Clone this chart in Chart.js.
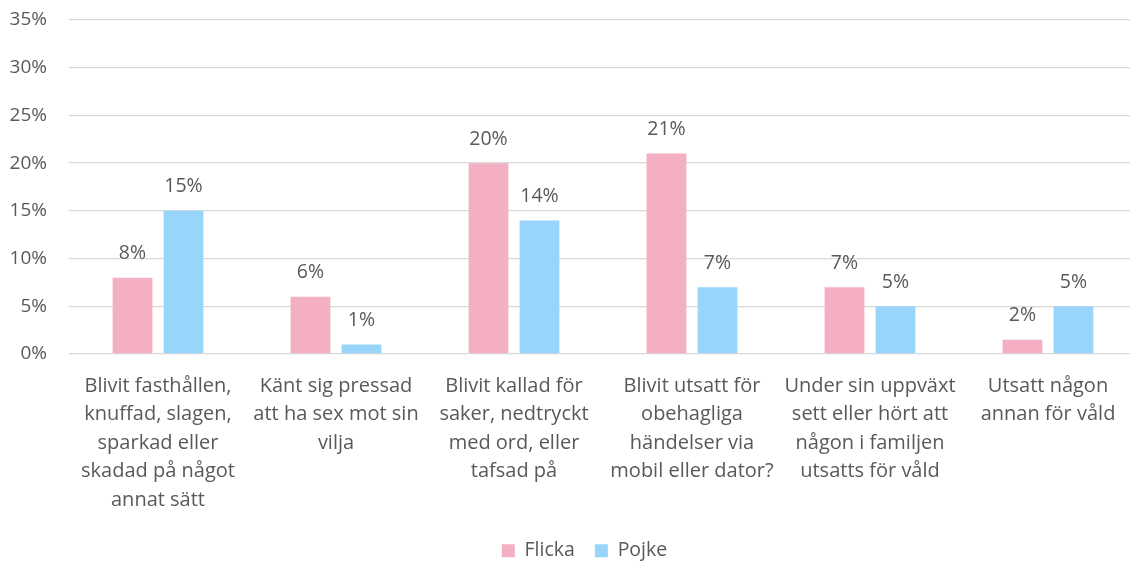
<!DOCTYPE html>
<html>
<head>
<meta charset="utf-8">
<script src="https://cdn.jsdelivr.net/npm/chart.js@4/dist/chart.umd.min.js"></script>
<style>
  html, body { margin: 0; padding: 0; background: #fff; overflow: hidden; }
  #wrap { width: 1140px; height: 561px; }
</style>
</head>
<body>
<div id="wrap"><canvas id="chart" width="1140" height="561"></canvas></div>
<script>
// kategorier (flera rader per etikett)
const categories = [
    ["Blivit fasthållen,", "knuffad, slagen,", "sparkad eller", "skadad på något", "annat sätt"],
    ["Känt sig pressad", "att ha sex mot sin", "vilja"],
    ["Blivit kallad för", "saker, nedtryckt", "med ord, eller", "tafsad på"],
    ["Blivit utsatt för", "obehagliga", "händelser via", "mobil eller dator?"],
    ["Under sin uppväxt", "sett eller hört att", "någon i familjen", "utsatts för våld"],
    ["Utsatt någon", "annan för våld"]
];
const seriesNames = ["Flicka", "Pojke"];
const flicka = [8, 6, 20, 21, 7, 1.5];
const pojke = [15, 1, 14, 7, 5, 5];
const yTicks = [0, 5, 10, 15, 20, 25, 30, 35];

const textColor = '#595959';
const fontFamily = "'Open Sans', 'Noto Sans', sans-serif";

// etiketter ovanför staplarna
const valueLabels = {
    id: 'valueLabels',
    afterDatasetsDraw(chart) {
        const ctx = chart.ctx;
        ctx.save();
        ctx.font = '19.5px ' + fontFamily;
        ctx.fillStyle = textColor;
        ctx.textAlign = 'center';
        ctx.textBaseline = 'middle';
        chart.data.datasets.forEach((ds, i) => {
            chart.getDatasetMeta(i).data.forEach((bar, j) => {
                ctx.fillText(Math.round(ds.data[j]) + '%', bar.x, bar.y - 24);
            });
        });
        ctx.restore();
    }
};

// legenden: fast höjd och lite förskjuten
const legendFix = {
    id: 'legendFix',
    beforeLayout(chart) {
        const lg = chart.legend;
        if (!lg._patched) {
            const origFit = lg.fit;
            lg.fit = function () {
                origFit.call(this);
                this.height = 43;
            };
            lg._patched = true;
        }
    },
    afterLayout(chart) {
        chart.legend.left += 16;
        chart.legend.right += 16;
        chart.legend.top += 3;
        chart.legend.bottom += 3;
    }
};

const ctx = document.getElementById('chart').getContext('2d');
new Chart(ctx, {
    type: 'bar',
    data: {
        labels: categories,
        datasets: [{
            label: seriesNames[0],
            data: flicka,
            backgroundColor: '#f4afc2',
            categoryPercentage: 0.573,
            barPercentage: 0.78
        }, {
            label: seriesNames[1],
            data: pojke,
            backgroundColor: '#99d5fb',
            categoryPercentage: 0.573,
            barPercentage: 0.78
        }]
    },
    options: {
        responsive: false,
        animation: false,
        layout: { padding: { top: 20, right: 3, left: 0, bottom: 0 } },
        plugins: {
            legend: {
                position: 'bottom',
                labels: {
                    color: textColor,
                    font: { size: 19.5, family: fontFamily },
                    boxWidth: 13,
                    boxHeight: 13,
                    padding: 20
                }
            },
            tooltip: { enabled: false }
        },
        scales: {
            y: {
                min: 0,
                max: 35,
                afterBuildTicks: (scale) => { scale.ticks = yTicks.map(v => ({ value: v })); },
                afterFit: (scale) => {
                    scale.width = 69;
                    scale.paddingTop = 0;
                    scale.paddingBottom = 0;
                },
                border: { display: false },
                grid: { color: '#d9d9d9', lineWidth: 1.3, drawTicks: false },
                ticks: {
                    color: textColor,
                    font: { size: 19, family: fontFamily },
                    padding: 22,
                    callback: (v) => v + '%'
                }
            },
            x: {
                afterFit: (scale) => { scale.height = 164; },
                border: { display: false },
                grid: { display: false },
                ticks: {
                    color: textColor,
                    font: { size: 20, family: fontFamily, lineHeight: 1.42 },
                    maxRotation: 0,
                    autoSkip: false,
                    padding: 10
                }
            }
        }
    },
    plugins: [valueLabels, legendFix]
});
</script>
</body>
</html>
